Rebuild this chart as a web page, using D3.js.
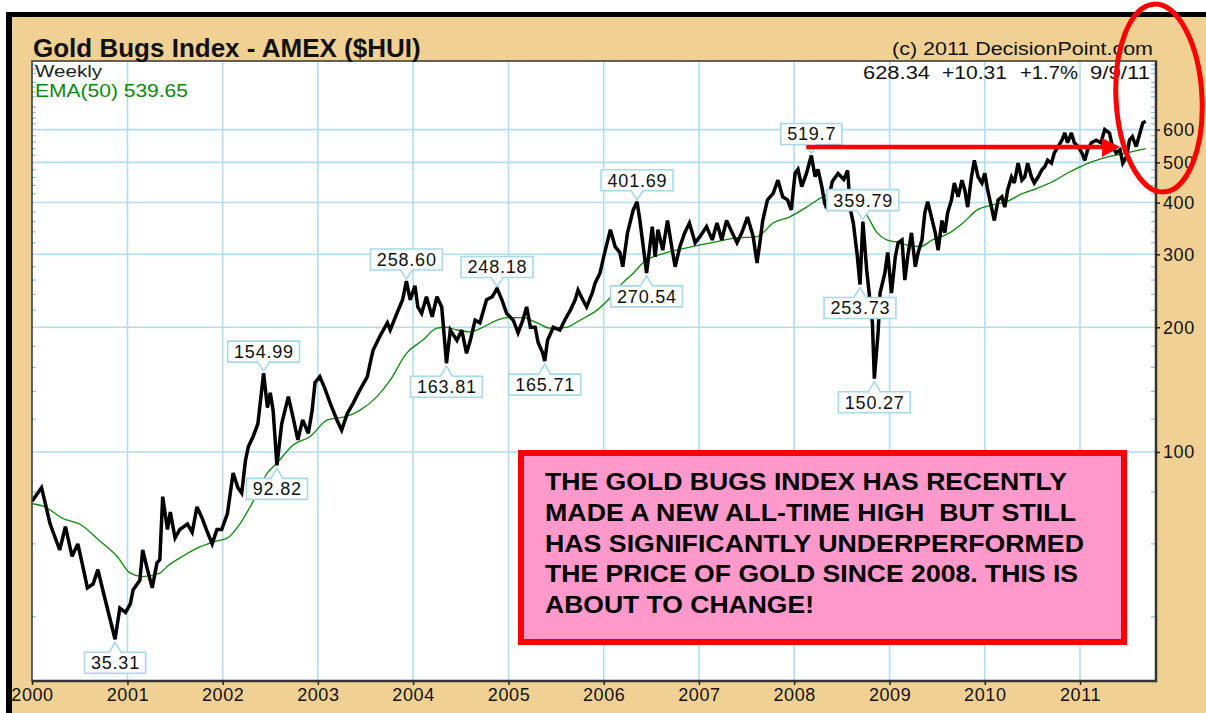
<!DOCTYPE html>
<html><head><meta charset="utf-8">
<script src="https://cdn.jsdelivr.net/npm/d3@7"></script>
<style>
html,body{margin:0;padding:0;background:#fff;}
svg{display:block;font-family:"Liberation Sans",Arial,sans-serif;}
text{white-space:pre;}
</style>
</head><body>
<svg id="c" width="1206" height="713"></svg>
<script>
// ---------------- DATA ----------------
const chartTitle = "Gold Bugs Index - AMEX ($HUI)";
const copyright = "(c) 2011 DecisionPoint.com";
const periodLabel = "Weekly";
const emaLabel = "EMA(50) 539.65";
const statTexts = ["628.34", "+10.31", "+1.7%", "9/9/11"];
const yearLabels = ["2000","2001","2002","2003","2004","2005","2006","2007","2008","2009","2010","2011"];
const yTickValues = [100, 200, 300, 400, 500, 600];
const yMinorTicks = [40,60,80,120,140,160,180,220,240,260,280,320,340,360,380,420,440,460,480,520,540,560,580,620,640,660,680,720,740,760,780,820,840,860];

// weekly HUI (decimal year, value)
const priceT = [2000.00,2000.10,2000.19,2000.29,2000.35,2000.42,2000.48,2000.54,2000.58,2000.64,2000.69,2000.75,2000.82,2000.87,2000.92,2000.98,
2001.03,2001.06,2001.13,2001.16,2001.21,2001.26,2001.31,2001.34,2001.37,2001.42,2001.45,2001.50,2001.55,2001.63,2001.68,2001.73,2001.78,2001.84,2001.89,2001.94,2001.99,
2002.05,2002.08,2002.11,2002.16,2002.20,2002.24,2002.27,2002.32,2002.37,2002.41,2002.43,2002.47,2002.50,2002.53,2002.57,2002.62,2002.69,2002.74,2002.79,2002.84,2002.90,2002.94,2002.97,
2003.02,2003.07,2003.13,2003.20,2003.25,2003.31,2003.37,2003.44,2003.52,2003.55,2003.58,2003.65,2003.73,2003.76,2003.83,2003.89,2003.93,2003.97,
2004.02,2004.05,2004.09,2004.14,2004.20,2004.25,2004.30,2004.33,2004.35,2004.39,2004.46,2004.51,2004.56,2004.60,2004.65,2004.70,2004.77,2004.83,2004.88,2004.93,2004.98,
2005.05,2005.10,2005.15,2005.19,2005.23,2005.28,2005.31,2005.36,2005.38,2005.41,2005.47,2005.54,2005.59,2005.65,2005.70,2005.73,2005.78,2005.82,2005.88,2005.91,2005.96,
2006.01,2006.07,2006.12,2006.17,2006.20,2006.25,2006.31,2006.35,2006.38,2006.41,2006.45,2006.51,2006.54,2006.57,2006.62,2006.67,2006.72,2006.75,2006.80,2006.85,2006.90,2006.96,
2007.01,2007.08,2007.14,2007.19,2007.24,2007.29,2007.35,2007.40,2007.45,2007.51,2007.57,2007.61,2007.64,2007.67,2007.72,2007.78,2007.83,2007.88,2007.93,2007.97,
2008.01,2008.04,2008.08,2008.13,2008.18,2008.22,2008.25,2008.29,2008.32,2008.34,2008.40,2008.46,2008.52,2008.56,2008.59,2008.62,2008.66,2008.69,2008.72,2008.76,2008.79,2008.82,2008.84,2008.88,2008.90,2008.95,2008.98,
2009.02,2009.06,2009.09,2009.13,2009.16,2009.19,2009.23,2009.27,2009.30,2009.34,2009.37,2009.40,2009.44,2009.48,2009.51,2009.55,2009.58,2009.61,2009.65,2009.68,2009.72,2009.76,2009.79,2009.82,2009.86,2009.89,2009.93,2009.97,
2010.00,2010.03,2010.07,2010.10,2010.14,2010.18,2010.21,2010.24,2010.28,2010.31,2010.35,2010.39,2010.42,2010.45,2010.49,2010.52,2010.56,2010.60,2010.63,2010.66,2010.70,2010.73,2010.77,2010.81,2010.84,2010.87,2010.91,2010.94,2010.98,
2011.02,2011.05,2011.08,2011.12,2011.17,2011.22,2011.26,2011.31,2011.34,2011.38,2011.42,2011.45,2011.49,2011.52,2011.55,2011.59,2011.63,2011.66,2011.69];
const priceV = [76,82,67,58,66,56,60,52,47,48,52,45.6,39.3,35.31,42,41,
43,46.5,49,58,52,47,54,55,78,65,71.6,62,65,67,64,73.7,69.6,64,60,65,65,
71,79.6,89,82,79.6,95.6,103,109,117,141,154.99,128,139,126,92.82,117,136,121,107,119.5,111,126,147,
152,143,131,119.5,113,124,131,141,152,164,176,190,205,197,216,233,258.6,233,
252,224,216,237,212,237,224,186,163.81,197,186,197,173,186,208,205,233,237,248.18,233,216,
208,194,208,224,200,200,184,173,165.71,186,200,197,208,220,233,246,233,224,242,256,270,
303,344,313,303,280,338,384,401.69,362,320,270.54,350,296,344,307,362,307,280,313,338,357,320,
331,350,325,357,325,362,338,320,338,369,331,286,320,362,406,421,453,413,406,384,
471,481,437,471,519.7,462,481,437,399,388,450,470,455,478,384,357,300,253.73,359.79,275,237,205,150.27,195,242,270,303,
242,296,320,325,260,296,338,280,303,325,378,402,369,338,307,362,338,378,406,446,413,453,429,390,461,506,461,446,
471,429,390,362,406,413,390,429,461,446,498,453,461,498,461,446,461,480,488,506,498,527,546,566,589,558,589,558,546,
527,506,536,558,566,558,600,589,546,527,536,498,517,566,577,546,589,623,628.34];

// EMA(50)
const emaT = [2000.01,2000.12,2000.33,2000.50,2000.71,2000.89,2001.03,2001.16,2001.34,2001.42,2001.58,2001.76,2001.94,2002.05,2002.18,2002.32,2002.47,2002.57,2002.74,2002.92,
2003.10,2003.31,2003.44,2003.62,2003.76,2003.93,2004.10,2004.25,2004.35,2004.46,2004.60,2004.73,2004.88,2004.98,2005.15,2005.30,2005.44,2005.61,2005.75,2005.93,
2006.07,2006.20,2006.31,2006.41,2006.66,2006.87,2007.01,2007.19,2007.36,2007.61,2007.78,2007.95,2008.13,2008.30,2008.48,2008.60,2008.76,2008.87,2008.97,
2009.11,2009.18,2009.32,2009.45,2009.63,2009.77,2009.92,2010.08,2010.23,2010.37,2010.55,2010.71,2010.89,2011.00,2011.13,2011.31,2011.49,2011.69];
const emaV = [75,74,69,67,61,56,51,50,51,53,56,59,61,62,67,76,89,94,104,109,
119.5,122,126,136,149,173,186,199,200,197,195,200,208,211,211,205,199,200,208,220,
236,256,270,286,303,311,316,322,328,331,357,369,390,413,425,410,373,338,325,
320,316,313,325,338,357,384,395,402,418,433,449,474,488,502,517,527,539.65];

// callout labels
const calloutText = ["35.31","92.82","154.99","258.60","163.81","248.18","165.71","401.69","270.54","519.7","359.79","253.73","150.27"];
const calloutT = [2000.87,2002.57,2002.43,2003.93,2004.35,2004.88,2005.38,2006.35,2006.45,2008.18,2008.72,2008.69,2008.84];
const calloutV = [35.31,92.82,154.99,258.60,163.81,248.18,165.71,401.69,270.54,519.7,359.79,253.73,150.27];
const calloutSide = ["below","below","above","above","below","above","below","above","below","above","above","below","below"];

const noteLines = ["THE GOLD BUGS INDEX HAS RECENTLY","MADE A NEW ALL-TIME HIGH  BUT STILL","HAS SIGNIFICANTLY UNDERPERFORMED","THE PRICE OF GOLD SINCE 2008. THIS IS","ABOUT TO CHANGE!"];
const arrowFromT = 2008.18, arrowToT = 2011.40;

// ---------------- HELPERS ----------------
function toDate(t){
  const y = Math.floor(t + 1e-9);
  const start = new Date(y,0,1), end = new Date(y+1,0,1);
  return new Date(start.getTime() + (t - y) * (end - start));
}

const W = 1206, H = 713;
const L = 32, R = 1156, T = 61, B = 681;
const svg = d3.select("#c");

// frame
svg.append("rect").attr("width",W).attr("height",H).attr("fill","#fff");
svg.append("rect").attr("x",6).attr("y",12).attr("width",W-6).attr("height",H-12).attr("fill","#000");
svg.append("rect").attr("x",12).attr("y",17).attr("width",W-12).attr("height",H-17).attr("fill","#F0D193");
svg.append("rect").attr("x",L).attr("y",T).attr("width",R-L).attr("height",B-T).attr("fill","#fff");

const x = d3.scaleTime().domain([new Date(2000,0,1), new Date(2011,0,1)]).range([L, 1080]);
const y = d3.scaleLog().domain([28, 878.6]).range([B, T]);

const grid = "#B2DDF2";
const yearDates = yearLabels.map(s => new Date(+s,0,1));
svg.append("g").selectAll("line").data(yearDates.slice(1)).join("line")
  .attr("x1", d => x(d)).attr("x2", d => x(d)).attr("y1", T).attr("y2", B)
  .attr("stroke", grid).attr("stroke-width", 1.6);
svg.append("g").selectAll("line").data(yTickValues).join("line")
  .attr("x1", L).attr("x2", R).attr("y1", d => y(d)).attr("y2", d => y(d))
  .attr("stroke", grid).attr("stroke-width", 1.6);

// minor ticks (inside, both sides)
const mt = yMinorTicks.filter(v => y(v) > T+2);
svg.append("g").selectAll("line").data(mt).join("line")
  .attr("x1", R-5).attr("x2", R).attr("y1", d => y(d)).attr("y2", d => y(d))
  .attr("stroke", "#8CC4E0").attr("stroke-width", 1.2);
svg.append("g").selectAll("line").data(mt).join("line")
  .attr("x1", L).attr("x2", L+4).attr("y1", d => y(d)).attr("y2", d => y(d))
  .attr("stroke", "#8CC4E0").attr("stroke-width", 1.2);

svg.append("clipPath").attr("id","clip").append("rect").attr("x",L).attr("y",T).attr("width",R-L).attr("height",B-T);

// EMA
const ema = emaT.map((t,i)=>({d:toDate(t), v:emaV[i]}));
svg.append("path").datum(ema).attr("clip-path","url(#clip)")
  .attr("fill","none").attr("stroke","#0A8A0A").attr("stroke-width",1.3)
  .attr("d", d3.line().x(d=>x(d.d)).y(d=>y(d.v)).curve(d3.curveMonotoneX));

// price
const price = priceT.map((t,i)=>({d:toDate(t), v:priceV[i]}));
svg.append("path").datum(price).attr("clip-path","url(#clip)")
  .attr("fill","none").attr("stroke","#000").attr("stroke-width",3.5).attr("stroke-linejoin","miter").attr("stroke-miterlimit",3)
  .attr("d", d3.line().x(d=>x(d.d)).y(d=>y(d.v)));

// plot border
svg.append("rect").attr("x",L).attr("y",T).attr("width",R-L).attr("height",B-T)
  .attr("fill","none").attr("stroke","#333").attr("stroke-width",1.5);
svg.append("path").attr("d",`M${R},${T}V${B}H${L}`).attr("fill","none").attr("stroke","#333").attr("stroke-width",2.5);

// axes
const xAxis = svg.append("g").attr("transform",`translate(0,${B})`)
  .call(d3.axisBottom(x).tickValues(yearDates).tickFormat(d3.timeFormat("%Y")).tickSize(4).tickPadding(3));
xAxis.select(".domain").remove();
xAxis.selectAll("line").attr("stroke","#222").attr("stroke-width",1.5);
xAxis.selectAll("text").attr("font-size",18).attr("fill","#111").attr("letter-spacing","0.6px")
  .attr("font-family","'Liberation Sans',Arial,sans-serif");

const yAxis = svg.append("g").attr("transform",`translate(${R},0)`)
  .call(d3.axisRight(y).tickValues(yTickValues).tickFormat(d3.format("d")).tickSize(4).tickPadding(3));
yAxis.select(".domain").remove();
yAxis.selectAll("line").attr("stroke","#222").attr("stroke-width",1.5);
yAxis.selectAll("text").attr("font-size",18).attr("fill","#111").attr("letter-spacing","0.6px")
  .attr("font-family","'Liberation Sans',Arial,sans-serif");

// header texts
svg.append("text").attr("x",33).attr("y",57).attr("font-size",26).attr("font-weight","bold")
  .attr("fill","#111").text(chartTitle);
svg.append("text").attr("x",1153).attr("y",55).attr("text-anchor","end").attr("font-size",18)
  .attr("fill","#111").attr("textLength",261).attr("lengthAdjust","spacingAndGlyphs").text(copyright);
const statX = [863, 942, 1020, 1090], statW = [67, 65, 58, 60];
statTexts.forEach((s,i)=>{
  svg.append("text").attr("x",statX[i]).attr("y",79).attr("font-size",18).attr("fill","#111")
    .attr("textLength",statW[i]).attr("lengthAdjust","spacingAndGlyphs").text(s);
});
svg.append("text").attr("x",35).attr("y",77).attr("font-size",16).attr("fill","#222")
  .attr("textLength",67).attr("lengthAdjust","spacingAndGlyphs").text(periodLabel);
svg.append("text").attr("x",35).attr("y",97).attr("font-size",18).attr("fill","#0A8A0A")
  .attr("textLength",153).attr("lengthAdjust","spacingAndGlyphs").text(emaLabel);

// callouts
const cg = svg.append("g");
calloutText.forEach((s,i)=>{
  const px = x(toDate(calloutT[i])), py = y(calloutV[i]);
  const g = cg.append("g");
  const path = g.append("path");
  const txt = g.append("text").attr("font-size",18).attr("fill","#111").attr("letter-spacing","0.8px")
    .attr("text-anchor","middle").text(s);
  const tw = txt.node().getComputedTextLength();
  const w = tw + 12, h = 21, cx = px;
  let top, d;
  if (calloutSide[i] === "above") {
    const bot = py - 11; top = bot - h;
    d = `M${cx-w/2},${top}H${cx+w/2}V${bot}H${cx+6}L${px},${py-2}L${cx-6},${bot}H${cx-w/2}Z`;
  } else {
    top = py + 13; const bot = top + h;
    d = `M${cx-w/2},${top}H${cx-6}L${px},${py+3}L${cx+6},${top}H${cx+w/2}V${bot}H${cx-w/2}Z`;
  }
  path.attr("d",d).attr("fill","#fff").attr("stroke","#A6D8EE").attr("stroke-width",1.6);
  txt.attr("x",cx+0.4).attr("y",top+17);
});

// annotation box
svg.append("rect").attr("x",521).attr("y",453).attr("width",603).attr("height",189)
  .attr("fill","#FF99CC").attr("stroke","#FF0000").attr("stroke-width",6);
const noteW = [522, 531, 539, 533, 269];
noteLines.forEach((s,i)=>{
  svg.append("text").attr("x",545).attr("y",490 + i*30.8).attr("font-size",23).attr("font-weight","bold")
    .attr("fill","#000").attr("textLength",noteW[i]).attr("lengthAdjust","spacingAndGlyphs").text(s);
});

// red arrow
const ax1 = x(toDate(arrowFromT)) - 5, ax2 = x(toDate(arrowToT)), ay = 147;
svg.append("line").attr("x1",ax1).attr("x2",ax2-12).attr("y1",ay).attr("y2",ay)
  .attr("stroke","#FF0000").attr("stroke-width",4.5);
svg.append("path").attr("d",`M${ax2-16},${ay-9}L${ax2+2},${ay}L${ax2-16},${ay+10}Z`).attr("fill","#FF0000");

// red ellipse
svg.append("ellipse").attr("cx",1159).attr("cy",98).attr("rx",43).attr("ry",94)
  .attr("transform","rotate(-3 1159 98)")
  .attr("fill","none").attr("stroke","#FF0000").attr("stroke-width",5);
</script>
</body></html>
